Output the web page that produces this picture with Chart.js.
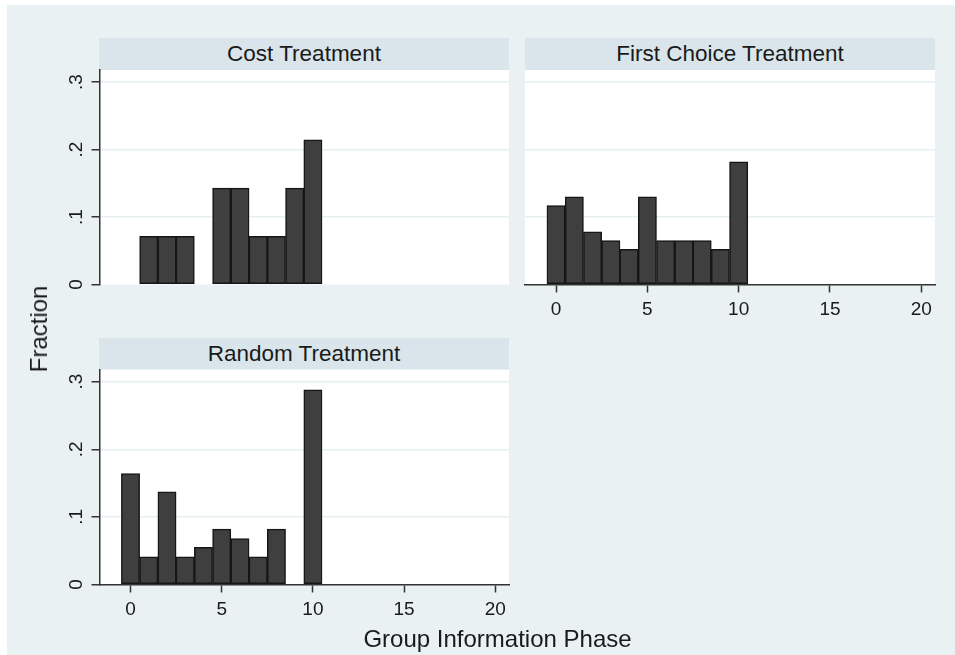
<!DOCTYPE html>
<html>
<head>
<meta charset="utf-8">
<script src="https://cdn.jsdelivr.net/npm/chart.js@4.4.1/dist/chart.umd.min.js"></script>
<style>
  body { margin: 0; width: 955px; height: 655px; position: relative; background: #fff; overflow: hidden;
         font-family: "Liberation Sans", Arial, sans-serif; }
  #bg { position: absolute; left: 7px; top: 5px; width: 948px; height: 650px; background: #e9f1f3; }
  canvas { position: absolute; }
  .strip { position: absolute; background: #d9e5ea; color: #1a1a1a; font-size: 22.5px; text-align: center;
           width: 410px; height: 32px; line-height: 32px; }
  .title { position: absolute; color: #1a1a1a; font-size: 24px; white-space: nowrap; }
</style>
</head>
<body>
<div id="bg"></div>
<div class="strip" style="left:99px;top:38px;">Cost Treatment</div>
<div class="strip" style="left:525px;top:38px;">First Choice Treatment</div>
<div class="strip" style="left:99px;top:338px;">Random Treatment</div>
<canvas id="cost" width="475" height="235" style="left:40px;top:60px"></canvas>
<canvas id="first" width="440" height="270" style="left:515px;top:60px"></canvas>
<canvas id="random" width="475" height="270" style="left:40px;top:360px"></canvas>
<div class="title" style="left:38.5px;top:328.5px;transform:translate(-50%,-50%) rotate(-90deg);">Fraction</div>
<div class="title" style="left:497.5px;top:639px;transform:translate(-50%,-50%);">Group Information Phase</div>
<script>
// histogram bins (width 1, centred on the integers)
const bins = [0, 1, 2, 3, 4, 5, 6, 7, 8, 9, 10];
const costFrac   = [0, 0.0714, 0.0714, 0.0714, 0, 0.1429, 0.1429, 0.0714, 0.0714, 0.1429, 0.2143];
const firstFrac  = [0.117, 0.130, 0.078, 0.065, 0.052, 0.130, 0.065, 0.065, 0.065, 0.052, 0.182];
const randomFrac = [0.164, 0.041, 0.137, 0.041, 0.055, 0.082, 0.068, 0.041, 0.082, 0, 0.288];
const xTicks = [0, 5, 10, 15, 20];
const yTicks = [0, 0.1, 0.2, 0.3];

Chart.defaults.font.family = '"Liberation Sans", Arial, sans-serif';
Chart.defaults.font.size = 19;
Chart.defaults.color = '#1a1a1a';

const plotBg = {
  id: 'plotBg',
  beforeDraw(chart) {
    const { ctx, chartArea: a } = chart;
    ctx.save();
    ctx.fillStyle = '#ffffff';
    ctx.fillRect(a.left, a.top, a.right - a.left, a.bottom - a.top);
    ctx.restore();
  }
};

function makePanel(id, values, showX, showY, padding) {
  const points = bins.map((b, i) => ({ x: b, y: values[i] })).filter(p => p.y > 0);
  return new Chart(document.getElementById(id), {
    type: 'bar',
    data: {
      datasets: [{
        data: points,
        backgroundColor: '#3f3f3f',
        borderColor: '#161616',
        borderWidth: 1.5,
        borderSkipped: false,
        categoryPercentage: 1,
        barPercentage: 1
      }]
    },
    options: {
      responsive: false,
      animation: false,
      layout: { padding: padding },
      plugins: { legend: { display: false }, tooltip: { enabled: false } },
      scales: {
        x: {
          type: 'linear',
          min: -1.7,
          max: 20.75,
          offset: false,
          display: showX,
          afterBuildTicks: s => { s.ticks = xTicks.map(v => ({ value: v })); },
          grid: { offset: false, drawOnChartArea: false, drawTicks: true, tickLength: 8, tickColor: '#333', tickWidth: 1.5 },
          border: { display: true, color: '#333', width: 1.5 },
          ticks: { padding: 6, maxRotation: 0, autoSkip: false },
          afterFit: s => {
            s.height = showX ? 45.5 : 0;
            s.paddingLeft = 0; s.paddingRight = 0;
          }
        },
        y: {
          min: 0,
          max: 0.318,
          afterBuildTicks: s => { s.ticks = yTicks.map(v => ({ value: v })); },
          grid: {
            color: c => (c.tick && c.tick.value === 0) ? 'rgba(0,0,0,0)' : '#e6eff1',
            lineWidth: 1.5,
            drawTicks: showY,
            tickLength: 8,
            tickColor: '#333',
            tickWidth: 1.5
          },
          border: { display: showY, color: '#333', width: 1.5 },
          ticks: {
            display: showY,
            minRotation: 90,
            maxRotation: 90,
            crossAlign: 'center',
            padding: 6.5,
            autoSkip: false,
            callback: v => v === 0 ? '0' : '.' + Math.round(v * 10)
          },
          afterFit: s => {
            s.width = showY ? 59.5 : 0;
            s.paddingTop = 0; s.paddingBottom = 0;
          }
        }
      }
    },
    plugins: [plotBg]
  });
}

makePanel('cost', costFrac, false, true, { left: 0, top: 10, right: 6, bottom: 10.5 });
makePanel('first', firstFrac, true, false, { left: 10, top: 10, right: 20, bottom: 0 });
makePanel('random', randomFrac, true, true, { left: 0, top: 9.5, right: 6, bottom: 0 });
</script>
</body>
</html>
